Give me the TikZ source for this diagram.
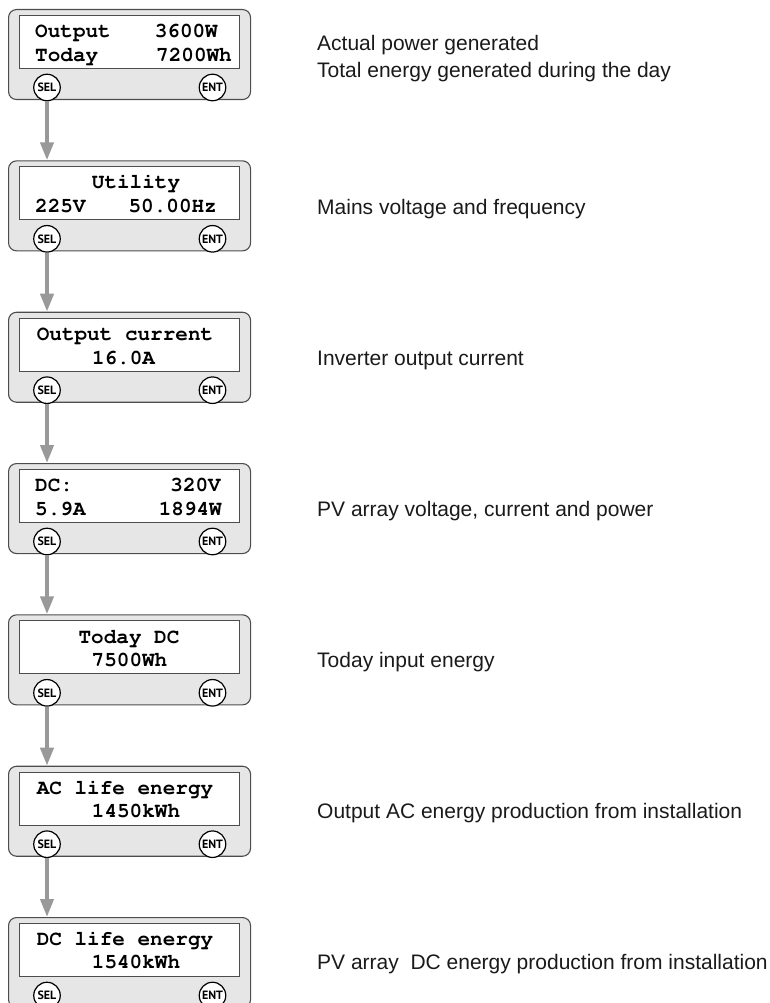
\documentclass[tikz,border=0pt]{standalone}
\usepackage{fontspec}
\setmainfont{Liberation Sans}
\newfontfamily\btnfont{PT Sans}
\usetikzlibrary{arrows.meta}
\newcommand\lcdfnt{\fontencoding{OT1}\fontfamily{pcr}\fontseries{b}\fontshape{n}\fontsize{21}{24}\selectfont}
\definecolor{panelfill}{HTML}{E6E6E6}
\definecolor{panelline}{HTML}{4D4D4D}
\definecolor{arrowgray}{HTML}{999999}
\definecolor{desctext}{HTML}{1A1A1A}
\tikzset{
 outerbox/.style={draw=panelline, line width=1.1pt, fill=panelfill, rounded corners=8pt, minimum width=242pt, minimum height=90pt, inner sep=0pt, anchor=north west},
 screenbox/.style={draw=panelline, line width=0.9pt, fill=white, minimum width=220pt, minimum height=53pt, inner sep=0pt, anchor=north west},
 btn/.style={circle, draw=black, line width=1.2pt, fill=white, minimum size=26.5pt, inner sep=0pt, font=\btnfont\bfseries\fontsize{12}{12}\selectfont},
 lcd/.style={font=\lcdfnt, inner sep=0pt, text=black},
 desc/.style={font=\fontsize{21}{24}\selectfont, inner sep=0pt, text=desctext, anchor=base west},
 flow/.style={draw=arrowgray, line width=4pt, -{Triangle[length=18pt,width=13pt]}},
}
\newcommand\lcdpanel[2]{%
 \node[outerbox] (p#1) at (8,#2) {};
 \node[screenbox] (d#1) at (19,{#2+6}) {};
 \node[btn] (s#1) at (47,{#2+78.5}) {SEL};
 \node[btn] (e#1) at (212.5,{#2+78.5}) {ENT};
}
\begin{document}
\begin{tikzpicture}[x=1pt,y=-1pt]
\clip (0,0) rectangle (769,1003);
\lcdpanel{1}{9}
\lcdpanel{2}{160.3}
\lcdpanel{3}{311.7}
\lcdpanel{4}{463}
\lcdpanel{5}{614.3}
\lcdpanel{6}{765.7}
\lcdpanel{7}{917}
% panel 1
\node[lcd, anchor=base west] (a1) at (35,38) {Output};
\node[lcd, anchor=base east] (b1) at (218,38) {3600W};
\node[lcd, anchor=base west] (c1) at (35,61.5) {Today};
\node[lcd, anchor=base east] (f1) at (232,61.5) {7200Wh};
% panel 2
\node[lcd, anchor=base] (a2) at (136,188.8) {Utility};
\node[lcd, anchor=base west] (c2) at (35,212.8) {225V};
\node[lcd, anchor=base east] (f2) at (217,212.8) {50.00Hz};
% panel 3
\node[lcd, anchor=base] (a3) at (125,340.2) {Output current};
\node[lcd, anchor=base] (c3) at (123.5,364.2) {16.0A};
% panel 4
\node[lcd, anchor=base west] (a4) at (35,491.6) {DC:};
\node[lcd, anchor=base east] (b4) at (221,491.6) {320V};
\node[lcd, anchor=base west] (c4) at (35,515.3) {5.9A};
\node[lcd, anchor=base east] (f4) at (222,515.3) {1894W};
% panel 5
\node[lcd, anchor=base] (a5) at (129,643) {Today DC};
\node[lcd, anchor=base] (c5) at (129.5,666.8) {7500Wh};
% panel 6
\node[lcd, anchor=base] (a6) at (125,794.8) {AC life energy};
\node[lcd, anchor=base] (c6) at (136,817.6) {1450kWh};
% panel 7
\node[lcd, anchor=base] (a7) at (125,945.7) {DC life energy};
\node[lcd, anchor=base] (c7) at (136,968.6) {1540kWh};
% arrows
\draw[flow] (s1.south) -- (s1.south |- p2.north);
\draw[flow] (s2.south) -- (s2.south |- p3.north);
\draw[flow] (s3.south) -- (s3.south |- p4.north);
\draw[flow] (s4.south) -- (s4.south |- p5.north);
\draw[flow] (s5.south) -- (s5.south |- p6.north);
\draw[flow] (s6.south) -- (s6.south |- p7.north);
% descriptions
\node[desc] (t1) at (317,50.7) {Actual power generated};
\node[desc] (t1b) at (317,77.3) {Total energy generated during the day};
\node[desc] (t2) at (317,214) {Mains voltage and frequency};
\node[desc] (t3) at (317,365) {Inverter output current};
\node[desc] (t4) at (317,516.7) {PV array voltage, current and power};
\node[desc] (t5) at (317,667.3) {Today input energy};
\node[desc] (t6) at (317,818.3) {Output AC energy production from installation};
\node[desc] (t7) at (317,969) {PV array\ \ DC energy production from installation};
\end{tikzpicture}
\end{document}
